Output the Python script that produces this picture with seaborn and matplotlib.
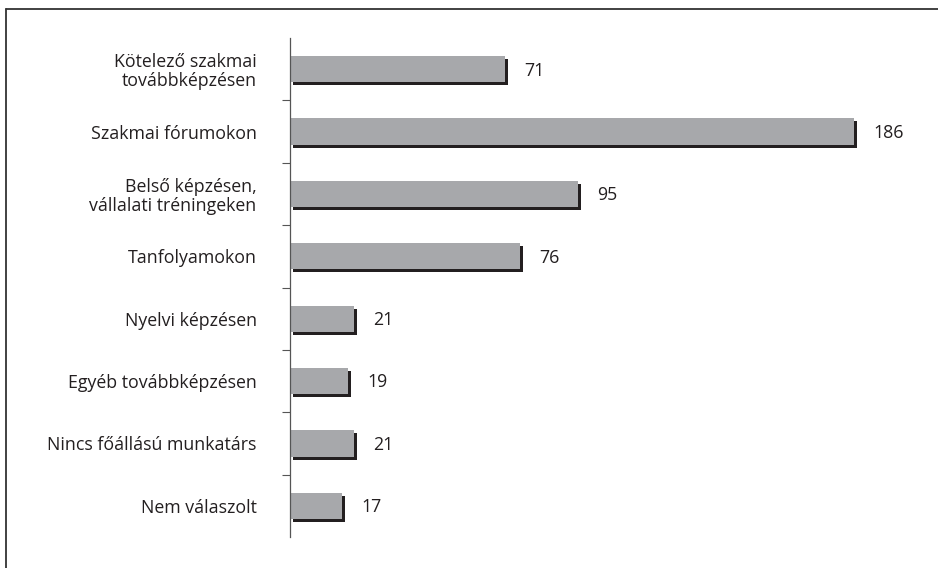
import numpy as np
import pandas as pd
import seaborn as sns
import matplotlib
matplotlib.use("Agg")
from matplotlib import pyplot as plt
from matplotlib.lines import Line2D
from matplotlib.transforms import ScaledTranslation

categories = [
    "Kötelező szakmai\ntovábbképzésen",
    "Szakmai fórumokon",
    "Belső képzésen,\nvállalati tréningeken",
    "Tanfolyamokon",
    "Nyelvi képzésen",
    "Egyéb továbbképzésen",
    "Nincs főállású munkatárs",
    "Nem válaszolt",
]
values = [71, 186, 95, 76, 21, 19, 21, 17]

df = pd.DataFrame({"cat": categories, "val": values})

sns.set_style("white")
plt.rcParams["font.family"] = ["Open Sans", "DejaVu Sans"]

fig = plt.figure(figsize=(9.38, 5.68), dpi=100)
ax = fig.add_axes([290 / 938, 1 - 537 / 568, 1 - 290 / 938, (537 - 38) / 568])

# shadow bars first, shifted right/down a few pixels
sns.barplot(data=df, x="val", y="cat", color="#231f20", width=0.42,
            saturation=1, ax=ax, orient="h")
shift = ScaledTranslation(3 / 100, -3 / 100, fig.dpi_scale_trans)
for p in ax.patches:
    p.set_transform(ax.transData + shift)
    p.set_edgecolor("none")
n_shadow = len(ax.patches)

sns.barplot(data=df, x="val", y="cat", color="#a7a8ab", width=0.42,
            saturation=1, ax=ax, orient="h")
for p in ax.patches[n_shadow:]:
    p.set_edgecolor("none")

for i, v in enumerate(values):
    ax.annotate(str(v), xy=(v, i), xytext=(14, -1), textcoords="offset points",
                va="center", ha="left", fontsize=12.8, color="#231f20")

ax.set_xlim(0, (938 - 290) / 3.03)
ax.set_ylim(7.5, -0.5)
ax.set_xlabel("")
ax.set_ylabel("")
ax.set_xticks([])

ax.set_yticks(range(len(categories)))
ax.set_yticklabels(categories, fontsize=12.8, color="#231f20",
                   multialignment="right", linespacing=1.05)
ax.set_yticks(np.arange(0.5, len(categories) - 1, 1), minor=True)
ax.tick_params(axis="y", which="major", length=0, pad=24)
ax.tick_params(axis="y", which="minor", length=6, width=0.8, color="#555555", left=True)

for s in ["top", "right", "bottom"]:
    ax.spines[s].set_visible(False)
ax.spines["left"].set_color("#555555")
ax.spines["left"].set_linewidth(0.9)

# outer frame (top and left only)
fig.add_artist(Line2D([6 / 938, 1], [1 - 9 / 568, 1 - 9 / 568],
                      transform=fig.transFigure, color="#333333", lw=1.3))
fig.add_artist(Line2D([6 / 938, 6 / 938], [0, 1 - 9 / 568],
                      transform=fig.transFigure, color="#333333", lw=1.3))

fig.savefig("out.png", dpi=100, facecolor="white")
